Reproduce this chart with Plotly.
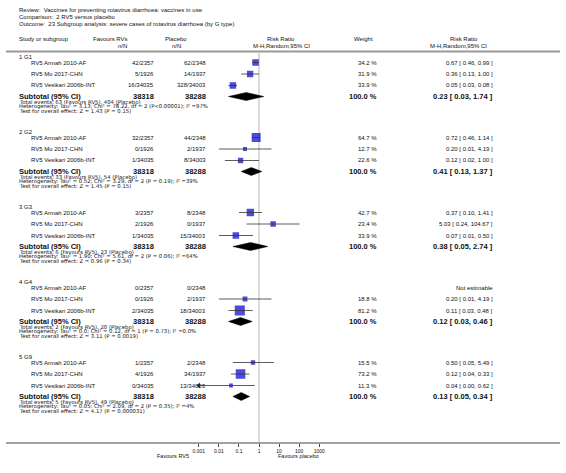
import math
import plotly.graph_objects as go

W, H = 566, 473

# ---------------- data ----------------
review_lines = [
    "Review:  Vaccines for preventing rotavirus diarrhoea: vaccines in use",
    "Comparison:  2 RV5 versus placebo",
    "Outcome:  23 Subgroup analysis: severe cases of rotavirus diarrhoea (by G type)",
]
groups = ["1 G1", "2 G2", "3 G3", "4 G4", "5 G9"]
studies = ["RV5 Armah 2010-AF", "RV5 Mo 2017-CHN", "RV5 Vesikari 2006b-INT"]
rv5_nN = [
    ["42/2357", "5/1926", "16/34035"],
    ["32/2357", "0/1926", "1/34035"],
    ["3/2357", "2/1926", "1/34035"],
    ["0/2357", "0/1926", "2/34035"],
    ["1/2357", "4/1926", "0/34035"],
]
placebo_nN = [
    ["62/2348", "14/1937", "328/34003"],
    ["44/2348", "2/1937", "8/34003"],
    ["8/2348", "0/1937", "15/34003"],
    ["0/2348", "2/1937", "18/34003"],
    ["2/2348", "34/1937", "13/34003"],
]
weights = [
    [34.2, 31.9, 33.9],
    [64.7, 12.7, 22.6],
    [42.7, 23.4, 33.9],
    [None, 18.8, 81.2],
    [15.5, 73.2, 11.3],
]
rr = [
    [0.67, 0.36, 0.05],
    [0.72, 0.20, 0.12],
    [0.37, 5.03, 0.07],
    [None, 0.20, 0.11],
    [0.50, 0.12, 0.04],
]
rr_lo = [
    [0.46, 0.13, 0.03],
    [0.46, 0.01, 0.02],
    [0.10, 0.24, 0.01],
    [None, 0.01, 0.03],
    [0.05, 0.04, 0.00],
]
rr_hi = [
    [0.99, 1.00, 0.08],
    [1.14, 4.19, 1.00],
    [1.41, 104.67, 0.50],
    [None, 4.19, 0.48],
    [5.49, 0.33, 0.62],
]
sub_total_rv5 = ["38318"] * 5
sub_total_pl = ["38288"] * 5
sub_rr = [0.23, 0.41, 0.38, 0.12, 0.13]
sub_lo = [0.03, 0.13, 0.05, 0.03, 0.05]
sub_hi = [1.74, 1.37, 2.74, 0.46, 0.34]
total_events = [
    "Total events: 63 (Favours RV5), 404 (Placebo)",
    "Total events: 33 (Favours RV5), 54 (Placebo)",
    "Total events: 6 (Favours RV5), 23 (Placebo)",
    "Total events: 2 (Favours RV5), 20 (Placebo)",
    "Total events: 5 (Favours RV5), 49 (Placebo)",
]
heterogeneity = [
    "Heterogeneity: Tau² = 3.13; Chi² = 78.22, df = 2 (P<0.00001); I² =97%",
    "Heterogeneity: Tau² = 0.52; Chi² = 3.29, df = 2 (P = 0.19); I² =39%",
    "Heterogeneity: Tau² = 1.90; Chi² = 5.61, df = 2 (P = 0.06); I² =64%",
    "Heterogeneity: Tau² = 0.0; Chi² = 0.12, df = 1 (P = 0.73); I² =0.0%",
    "Heterogeneity: Tau² = 0.05; Chi² = 2.09, df = 2 (P = 0.35); I² =4%",
]
overall = [
    "Test for overall effect: Z = 1.43 (P = 0.15)",
    "Test for overall effect: Z = 1.45 (P = 0.15)",
    "Test for overall effect: Z = 0.96 (P = 0.34)",
    "Test for overall effect: Z = 3.11 (P = 0.0019)",
    "Test for overall effect: Z = 4.17 (P = 0.000031)",
]
tick_vals = [0.001, 0.01, 0.1, 1, 10, 100, 1000]
tick_text = ["0.001", "0.01", "0.1", "1", "10", "100", "1000"]
favours_left = "Favours RV5"
favours_right = "Favours placebo"

# ---------------- layout helpers ----------------
FONT = "Liberation Sans, Arial, sans-serif"
WIDE = "DejaVu Sans, Verdana, sans-serif"
TXT = "#111"
SMALL = 6
TINY = 5.3
BOLD = 7.5
X_MIN, X_MAX = 0.001, 1000
AX_L, AX_R = 197, 320
AX_Y = 443

annotations = []


def txt(x, y, s, anchor="left", size=SMALL, bold=False, color=TXT, family=FONT):
    annotations.append(dict(
        x=x / W, y=1 - y / H, xref="paper", yref="paper",
        text=("<b>%s</b>" % s) if bold else s, showarrow=False,
        xanchor=anchor, yanchor="middle", borderpad=0,
        font=dict(family=family, size=size, color=color)))


def fmt_ci(e, lo, hi):
    return "%.2f [ %.2f, %.2f ]" % (e, lo, hi)


# header
for i, s in enumerate(review_lines):
    txt(12, 10 + 7 * i, s)
txt(12, 39, "Study or subgroup")
txt(126, 39, "Favours RVs", "right")
txt(125, 46, "n/N", "right")
txt(174, 39, "Placebo", "center")
txt(174, 46, "n/N", "center")
txt(281, 39, "Risk Ratio", "center")
txt(281, 46, "M-H,Random,95% CI", "center")
txt(365, 39, "Weight", "center")
txt(468, 39, "Risk Ratio", "center")
txt(462, 46, "M-H,Random,95% CI", "center")

fig = go.Figure()

sq_x, sq_y, sq_s = [], [], []
ci_x, ci_y = [], []
arrow_x, arrow_y = [], []

for g in range(len(groups)):
    base = 57 + 75 * g
    txt(12, base, groups[g])
    for s in range(len(studies)):
        y = base + 5.5 + 11.5 * s
        txt(25, y, studies[s])
        txt(152, y, rv5_nN[g][s], "right")
        txt(205, y, placebo_nN[g][s], "right")
        if rr[g][s] is None:
            txt(499, y, "Not estimable", "right")
            continue
        txt(380, y, "%.1f %%" % weights[g][s], "right")
        txt(499, y, fmt_ci(rr[g][s], rr_lo[g][s], rr_hi[g][s]), "right")
        lo = rr_lo[g][s]
        if lo < X_MIN:
            lo = X_MIN
            arrow_x.append(X_MIN)
            arrow_y.append(y)
        ci_x += [lo, min(rr_hi[g][s], X_MAX), None]
        ci_y += [y, y, None]
        sq_x.append(rr[g][s])
        sq_y.append(y)
        sq_s.append(max(3, 1.12 * math.sqrt(weights[g][s])))
    ys = base + 39.5
    txt(12, ys, "Subtotal (95% CI)", size=BOLD, bold=True)
    txt(152, ys, sub_total_rv5[g], "right", size=BOLD, bold=True)
    txt(205, ys, sub_total_pl[g], "right", size=BOLD, bold=True)
    txt(380, ys, "100.0 %", "right", size=BOLD, bold=True)
    txt(499, ys, fmt_ci(sub_rr[g], sub_lo[g], sub_hi[g]), "right", size=BOLD, bold=True)
    txt(12, base + 45, total_events[g], size=TINY, family=WIDE)
    txt(12, base + 49.6, heterogeneity[g], size=TINY, family=WIDE)
    txt(12, base + 54.2, overall[g], size=TINY, family=WIDE)
    fig.add_trace(go.Scatter(
        x=[sub_lo[g], sub_rr[g], sub_hi[g], sub_rr[g], sub_lo[g]],
        y=[ys, ys - 4, ys, ys + 4, ys],
        mode="lines", fill="toself", fillcolor="#000", line=dict(color="#000", width=0.5),
        hoverinfo="skip", showlegend=False))

fig.add_trace(go.Scatter(
    x=sq_x, y=sq_y, mode="markers",
    marker=dict(symbol="square", size=sq_s, color="#0000cc", line=dict(width=0)),
    showlegend=False, hoverinfo="skip"))
fig.add_trace(go.Scatter(
    x=ci_x, y=ci_y, mode="lines", line=dict(color="#333", width=0.8),
    showlegend=False, hoverinfo="skip"))
fig.add_trace(go.Scatter(
    x=arrow_x, y=arrow_y, mode="markers", cliponaxis=False,
    marker=dict(symbol="triangle-left", size=5, color="#333"),
    showlegend=False, hoverinfo="skip"))

# axis labels
txt(188, 456, favours_left, "right", size=5.5)
txt(277, 456, favours_right, "left", size=5.5)

shapes = [
    dict(type="line", xref="paper", yref="paper", x0=0, x1=1,
         y0=1 - 51.5 / H, y1=1 - 51.5 / H, line=dict(color="#999", width=1.8)),
    dict(type="line", xref="paper", yref="paper", x0=0, x1=1,
         y0=1 - AX_Y / H, y1=1 - AX_Y / H, line=dict(color="#444", width=1)),
    dict(type="line", xref="x", yref="y", x0=1, x1=1, y0=53, y1=AX_Y,
         line=dict(color="#cfcfcf", width=1.5), layer="below"),
]

fig.update_layout(
    width=W, height=H, margin=dict(l=0, r=0, t=0, b=0, pad=0),
    paper_bgcolor="white", plot_bgcolor="rgba(0,0,0,0)",
    annotations=annotations, shapes=shapes,
    xaxis=dict(type="log", range=[math.log10(X_MIN), math.log10(X_MAX)],
               domain=[AX_L / W, AX_R / W], tickvals=tick_vals, ticktext=tick_text,
               ticks="outside", ticklen=3, tickcolor="#444", tickwidth=1,
               tickfont=dict(family=FONT, size=5, color=TXT), ticklabelstandoff=0,
               showgrid=False, zeroline=False, showline=False, fixedrange=True),
    yaxis=dict(range=[AX_Y, 0], domain=[1 - AX_Y / H, 1], visible=False,
               showgrid=False, zeroline=False, fixedrange=True),
    showlegend=False,
)

fig.write_html("out.html", config={"displayModeBar": False},
               post_script="document.body.style.margin='0';document.body.style.overflow='hidden';")
